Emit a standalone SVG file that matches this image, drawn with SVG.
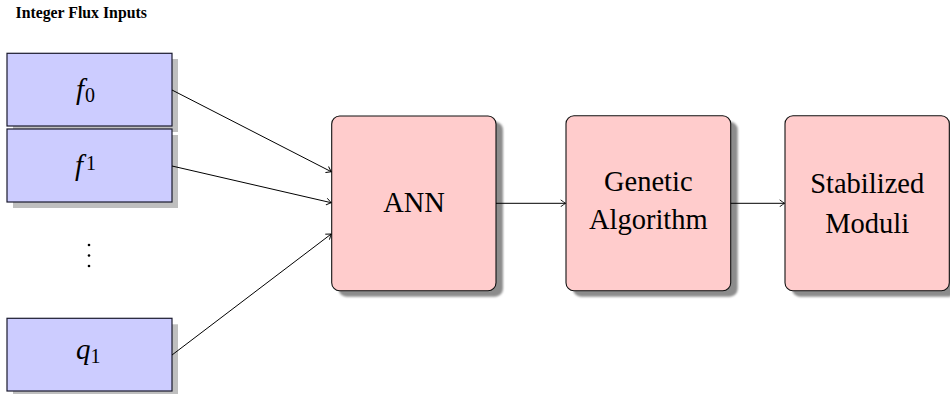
<svg xmlns="http://www.w3.org/2000/svg" width="950" height="394" viewBox="0 0 950 394">
<defs>
<marker id="arr" viewBox="-6 -4 7 8" refX="0" refY="0" markerWidth="7" markerHeight="8" markerUnits="userSpaceOnUse" orient="auto">
<path d="M -4.5 -3.2 Q -1.2 -0.8 0 0 Q -1.2 0.8 -4.5 3.2" fill="none" stroke="#000" stroke-width="0.9" stroke-linecap="round"/>
</marker>
<filter id="blur" x="-10%" y="-10%" width="120%" height="120%"><feGaussianBlur stdDeviation="1"/></filter>
</defs>
<style>
.in{fill:#ccccff;stroke:#1a1a2e;stroke-width:1.2}
.ins{fill:#bfbfbf}
.pk{fill:#ffcccc;stroke:#111;stroke-width:1.1}
.pks{fill:#8c8c8c;filter:url(#blur)}
.lbl{font-family:"Liberation Serif","Times New Roman",serif;font-size:28.5px;fill:#000;text-anchor:middle}
.m{font-family:"Liberation Serif","Times New Roman",serif;font-size:29px;fill:#000}
.mi{font-style:italic}
.sub{font-size:20px}
.title{font-family:"Liberation Serif","Times New Roman",serif;font-size:15.8px;font-weight:bold;fill:#000}
.c{fill:none;stroke:#000;stroke-width:1;marker-end:url(#arr)}
</style>
<rect width="950" height="394" fill="#fff"/>
<text class="title" x="15.5" y="18.3">Integer Flux Inputs</text>

<g id="f0">
<rect class="ins" x="13" y="59" width="165" height="73"/>
<rect class="in" x="7" y="53.3" width="165" height="72.7"/>
<text class="m" x="76" y="98.5"><tspan class="mi">f</tspan><tspan class="sub" dy="3.5" dx="1">0</tspan></text>
</g>
<g id="f1">
<rect class="ins" x="13" y="135" width="165" height="73"/>
<rect class="in" x="7" y="129" width="165" height="73"/>
<text class="m" x="75" y="175"><tspan class="mi">f</tspan><tspan class="sub" dy="-5" dx="3">1</tspan></text>
</g>
<g id="dots" fill="#000">
<circle cx="89" cy="245" r="1.3"/>
<circle cx="89" cy="255.5" r="1.3"/>
<circle cx="89" cy="266" r="1.3"/>
</g>
<g id="q1">
<rect class="ins" x="13" y="324.3" width="165" height="73"/>
<rect class="in" x="7" y="318.3" width="165" height="72.7"/>
<text class="m" x="76" y="358.5"><tspan class="mi">q</tspan><tspan class="sub" dy="4.5">1</tspan></text>
</g>

<g id="ann">
<rect class="pks" x="338.5" y="122" width="164.5" height="174.7" rx="8"/>
<rect class="pk" x="331.7" y="116" width="164.3" height="174.7" rx="8"/>
<text class="lbl" x="414" y="211.7">ANN</text>
</g>
<g id="ga">
<rect class="pks" x="573" y="121.7" width="164.7" height="175" rx="8"/>
<rect class="pk" x="566" y="115.7" width="164.7" height="175" rx="8"/>
<text class="lbl" x="648.3" y="190.7">Genetic</text>
<text class="lbl" x="648.3" y="229">Algorithm</text>
</g>
<g id="sm">
<rect class="pks" x="792" y="121.7" width="164.3" height="175" rx="8"/>
<rect class="pk" x="785" y="115.7" width="164.3" height="175" rx="8"/>
<text class="lbl" x="867.2" y="193">Stabilized</text>
<text class="lbl" x="867.2" y="232.7">Moduli</text>
</g>

<g id="connectors">
<line class="c" x1="172" y1="90" x2="331.2" y2="171.7"/>
<line class="c" x1="172" y1="166" x2="331.2" y2="202.7"/>
<line class="c" x1="172" y1="355" x2="331.2" y2="234"/>
<line class="c" x1="496" y1="203.3" x2="565.5" y2="203.3"/>
<line class="c" x1="730.7" y1="203.3" x2="784.5" y2="203.3"/>
</g>
</svg>
